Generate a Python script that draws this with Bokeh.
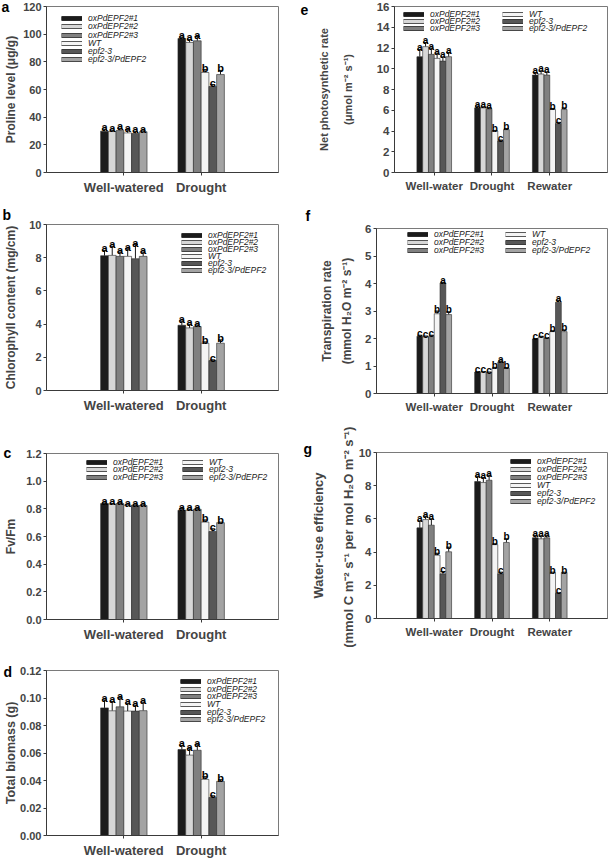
from bokeh.plotting import figure
from bokeh.models import (ColumnDataSource, Whisker, TeeHead, Legend, LegendItem,
                          FixedTicker, Title, Range1d, PrintfTickFormatter, LinearAxis)
from bokeh.layouts import row, column
from bokeh.embed import file_html
from bokeh.resources import INLINE
from bokeh.core.properties import value

FONT = "Liberation Sans"
NAN = float("nan")

SERIES = ["oxPdEPF2#1", "oxPdEPF2#2", "oxPdEPF2#3", "WT", "epf2-3", "epf2-3/PdEPF2"]
FILLS = ["#1b1b1b", "#d7d7d7", "#808080", "#f4f4f4", "#575757", "#a3a3a3"]

COND2 = ["Well-watered", "Drought"]
COND3 = ["Well-water", "Drought", "Rewater"]

# (a) proline level, rows = condition, columns = series
PRO_MEAN = [[29.9, 29.6, 30.4, 28.6, 28.2, 29.5],
            [96.9, 94.0, 95.2, 72.3, 62.2, 70.8]]
PRO_ERR = [[1.4, 1.0, 1.5, 2.4, 1.6, 0.6],
           [1.0, 2.2, 3.1, 2.1, 1.4, 3.0]]
PRO_LET = [["a", "a", "a", "a", "a", "a"],
           ["a", "a", "a", "b", "c", "b"]]

# (b) chlorophyll content
CHL_MEAN = [[8.12, 8.14, 8.08, 8.08, 7.94, 8.08],
            [3.93, 3.77, 3.85, 2.85, 1.80, 2.85]]
CHL_ERR = [[0.32, 0.55, 0.26, 0.46, 0.85, 0.26],
           [0.26, 0.22, 0.10, 0.08, 0.05, 0.20]]
CHL_LET = [["a", "a", "a", "a", "a", "a"],
           ["a", "a", "a", "b", "c", "b"]]

# (c) Fv/Fm
FV_MEAN = [[0.838, 0.834, 0.838, 0.826, 0.825, 0.824],
           [0.790, 0.790, 0.797, 0.704, 0.636, 0.700]]
FV_ERR = [[0.005, 0.005, 0.006, 0.003, 0.004, 0.005],
          [0.012, 0.008, 0.004, 0.016, 0.020, 0.004]]
FV_LET = [["a", "a", "a", "a", "a", "a"],
          ["a", "a", "a", "b", "c", "b"]]

# (d) total biomass
BIO_MEAN = [[0.0928, 0.0907, 0.0936, 0.0905, 0.0905, 0.0908],
            [0.0625, 0.0585, 0.0620, 0.0408, 0.0277, 0.0394]]
BIO_ERR = [[0.0058, 0.0068, 0.0066, 0.0057, 0.0043, 0.0062],
           [0.0030, 0.0046, 0.0040, 0.0020, 0.0012, 0.0012]]
BIO_LET = [["a", "a", "a", "a", "a", "a"],
           ["a", "a", "a", "b", "c", "b"]]

# (e) net photosynthetic rate
PN_MEAN = [[11.16, 12.13, 11.39, 11.00, 10.74, 11.16],
           [6.23, 6.23, 6.10, 4.00, 3.03, 4.13],
           [9.39, 9.49, 9.39, 6.07, 4.71, 6.07]]
PN_ERR = [[0.70, 0.40, 0.60, 0.50, 0.40, 0.40],
          [0.17, 0.10, 0.15, 0.05, 0.10, 0.10],
          [0.25, 0.30, 0.30, 0.10, 0.12, 0.15]]
PN_LET = [["a", "a", "a", "a", "a", "a"],
          ["a", "a", "a", "b", "c", "b"],
          ["a", "a", "a", "b", "c", "b"]]

# (f) transpiration rate
TR_MEAN = [[2.08, 2.06, 2.07, 2.90, 4.02, 2.87],
           [0.78, 0.78, 0.77, 0.92, 1.15, 0.92],
           [1.98, 2.05, 2.00, 2.25, 3.32, 2.25]]
TR_ERR = [[0.04, 0.03, 0.05, 0.10, 0.02, 0.10],
          [0.01, 0.01, 0.01, 0.03, 0.03, 0.02],
          [0.02, 0.03, 0.02, 0.03, 0.07, 0.06]]
TR_LET = [["c", "c", "c", "b", "a", "b"],
          ["c", "c", "c", "b", "a", "b"],
          ["c", "c", "c", "b", "a", "b"]]

# (g) water-use efficiency
WUE_MEAN = [[5.46, 5.96, 5.62, 3.81, 2.69, 4.02],
            [8.25, 8.19, 8.33, 4.45, 2.69, 4.58],
            [4.86, 4.80, 4.86, 2.77, 1.52, 2.77]]
WUE_ERR = [[0.42, 0.20, 0.38, 0.12, 0.14, 0.28],
           [0.32, 0.30, 0.30, 0.05, 0.10, 0.22],
           [0.15, 0.18, 0.16, 0.02, 0.02, 0.02]]
WUE_LET = [["a", "a", "a", "b", "c", "b"],
           ["a", "a", "a", "b", "c", "b"],
           ["a", "a", "a", "b", "c", "b"]]

BAR_W = 0.1
FRAME_H = 166
ITEM_H = 14     # fixed legend item box height


def set_standoff(obj, val):
    try:
        obj.axis_label_standoff = val
    except Exception:
        obj.axis_label_standoff = 0


def style_label(ax, size, standoff):
    ax.axis_label_text_font = FONT
    ax.axis_label_text_font_style = "bold"
    ax.axis_label_text_font_size = size
    set_standoff(ax, standoff)


def panel(w, h, bl, br, bt, bb, xr, ymax, yticks, yfmt, cats, means, errs, lets,
          ylabels, ylab_size, ylab_sd, tick_size, xlab_size, let_size,
          tag, tag_dx, tag_so, leg_cols_x, leg_top, leg_pitch):
    p = figure(width=w, height=h, x_range=Range1d(*xr), y_range=Range1d(0, ymax),
               output_backend="svg", toolbar_location=None,
               min_border_left=bl, min_border_right=br,
               min_border_top=bt, min_border_bottom=bb)
    try:
        p.frame_align = False
    except Exception:
        pass
    p.grid.visible = False
    p.outline_line_color = "#7a7a7a"
    p.outline_line_width = 1
    p.background_fill_color = "white"
    p.border_fill_color = "white"

    n = len(cats)
    swatches = []
    for si in range(len(SERIES)):
        xs = [ci + 1 + (si - 2.5) * BAR_W for ci in range(n)]
        tops = [means[ci][si] for ci in range(n)]
        ups = [means[ci][si] + errs[ci][si] for ci in range(n)]
        lt = [lets[ci][si] for ci in range(n)]
        src = ColumnDataSource(dict(x=xs, top=tops, upper=ups, let=lt))
        p.vbar(x="x", top="top", width=BAR_W, source=src,
               fill_color=FILLS[si], line_color="#2a2a2a", line_width=0.6)
        p.add_layout(Whisker(source=src, base="x", lower="top", upper="upper",
                             dimension="height", line_color="#1a1a1a", line_width=1,
                             lower_head=None,
                             upper_head=TeeHead(size=5, line_color="#1a1a1a", line_width=1)))
        p.text(x="x", y="upper", text="let", source=src, text_align="center",
               text_baseline="alphabetic", y_offset=-2,
               text_font=value(FONT), text_font_style="bold",
               text_font_size=let_size, text_color="black")
        # legend swatch: an outlined bar drawn as two stacked strokes (no data drawn)
        o = p.line(x=[NAN, NAN], y=[NAN, NAN], line_width=5, line_color="#333333")
        f = p.line(x=[NAN, NAN], y=[NAN, NAN], line_width=3.4, line_color=FILLS[si])
        swatches.append([o, f])

    ya = p.yaxis[0]
    ya.ticker = FixedTicker(ticks=yticks)
    ya.formatter = PrintfTickFormatter(format=yfmt)
    ya.axis_label = ylabels[-1]
    style_label(ya, ylab_size[-1], ylab_sd[-1])
    ya.major_label_text_font = FONT
    ya.major_label_text_font_style = "bold"
    ya.major_label_text_font_size = tick_size
    ya.major_label_standoff = 2
    ya.major_tick_out = 3
    ya.major_tick_in = 0
    ya.minor_tick_out = 0
    ya.minor_tick_in = 0
    ya.axis_line_color = "#3a3a3a"
    ya.major_tick_line_color = "#3a3a3a"

    if len(ylabels) > 1:
        # first label line, carried by an outer tick-less axis
        ax2 = LinearAxis(ticker=FixedTicker(ticks=[]), axis_label=ylabels[0])
        style_label(ax2, ylab_size[0], ylab_sd[0])
        ax2.axis_line_color = None
        ax2.major_tick_line_color = None
        ax2.minor_tick_line_color = None
        ax2.major_tick_out = 0
        ax2.major_tick_in = 0
        ax2.minor_tick_out = 0
        ax2.minor_tick_in = 0
        ax2.major_label_standoff = 0
        p.add_layout(ax2, "left")

    xa = p.xaxis[0]
    xa.ticker = FixedTicker(ticks=list(range(1, n + 1)))
    xa.major_label_overrides = {i + 1: c for i, c in enumerate(cats)}
    xa.major_label_text_font = FONT
    xa.major_label_text_font_style = "bold"
    xa.major_label_text_font_size = xlab_size
    xa.major_label_standoff = 4
    xa.major_tick_out = 3
    xa.major_tick_in = 0
    xa.minor_tick_out = 0
    xa.minor_tick_in = 0
    xa.axis_line_color = "#3a3a3a"
    xa.major_tick_line_color = "#3a3a3a"

    ncols = len(leg_cols_x)
    nrows = (len(SERIES) + ncols - 1) // ncols
    for i, name in enumerate(SERIES):
        col, r = divmod(i, nrows)
        centre = leg_top + r * leg_pitch
        leg = Legend(items=[LegendItem(label=name, renderers=swatches[i])],
                     location=(leg_cols_x[col], FRAME_H - centre - ITEM_H / 2),
                     glyph_width=21, glyph_height=ITEM_H, label_height=ITEM_H,
                     label_standoff=6, spacing=0, padding=0, margin=0,
                     border_line_alpha=0, background_fill_alpha=0,
                     label_text_font=FONT, label_text_font_style="italic",
                     label_text_font_size="8.5px", label_text_color="#1a1a1a")
        p.add_layout(leg)

    t = Title(text=tag, align="left", offset=tag_dx, vertical_align="bottom",
              text_font=FONT, text_font_style="bold", text_font_size="14px",
              text_color="black")
    try:
        t.standoff = tag_so
    except Exception:
        t.standoff = 0
    p.add_layout(t, "above")
    return p


LW, RW = 295, 314
pa = panel(LW, 200, 46, 17, 6, 28, (0, 3), 120, [0, 20, 40, 60, 80, 100, 120], "%d",
           COND2, PRO_MEAN, PRO_ERR, PRO_LET, ["Proline level (μg/g)"], ["12px"], [2],
           "11px", "13px", "11px", "a", -45, -16, [15], 12.3, 8.1)
pb = panel(LW, 220, 46, 17, 24, 30, (0, 3), 10, [0, 2, 4, 6, 8, 10], "%d",
           COND2, CHL_MEAN, CHL_ERR, CHL_LET, ["Chlorophyll content (mg/cm)"], ["12px"], [8],
           "11px", "13px", "11px", "b", -44, 4, [135], 11, 7.0)
pc = panel(LW, 225, 46, 17, 33, 26, (0, 3), 1.2, [0, 0.2, 0.4, 0.6, 0.8, 1.0, 1.2], "%.1f",
           COND2, FV_MEAN, FV_ERR, FV_LET, ["Fv/Fm"], ["12px"], [5],
           "11px", "13px", "11px", "c", -43, -14, [40, 136], 8.7, 7.5)
pd_ = panel(LW, 215, 46, 17, 25, 24, (0, 3), 0.12, [0, 0.02, 0.04, 0.06, 0.08, 0.10, 0.12], "%.2f",
            COND2, BIO_MEAN, BIO_ERR, BIO_LET, ["Total biomass (g)"], ["12.5px"], [-1],
            "11px", "13px", "11px", "d", -43, -18, [134], 12.3, 7.55)

pe = panel(RW, 200, 99, 2, 6, 28, (0.312, 4.0), 16, [0, 2, 4, 6, 8, 10, 12, 14, 16], "%d",
           COND3, PN_MEAN, PN_ERR, PN_LET,
           ["Net photosynthetic rate", "(μmol m⁻² s⁻¹)"], ["11px", "11px"], [9, 20],
           "11.5px", "11.5px", "10px", "e", -94, -16, [9, 108], 8, 7.2)
pf = panel(RW, 215, 81, 2, 28, 21, (0, 4), 6, [0, 1, 2, 3, 4, 5, 6], "%d",
           COND3, TR_MEAN, TR_ERR, TR_LET,
           ["Transpiration rate", "(mmol H₂O m⁻² s⁻¹)"], ["12px", "12px"], [4, 8],
           "11.5px", "11.5px", "10px", "f", -71, 10, [31, 129], 7, 7.8)
pg = panel(RW, 445, 81, 2, 37, 242, (0, 4), 10, [0, 2, 4, 6, 8, 10], "%d",
           COND3, WUE_MEAN, WUE_ERR, WUE_LET,
           ["Water-use efficiency", "(mmol C m⁻² s⁻¹  per mol H₂O m⁻² s⁻¹)"], ["13px", "13px"], [12, 0],
           "11.5px", "11.5px", "10px", "g", -73, -8, [134], 8.7, 8.1)

layout = row(column(pa, pb, pc, pd_), column(pe, pf, pg))
open("out.html", "w").write(file_html(layout, INLINE))
